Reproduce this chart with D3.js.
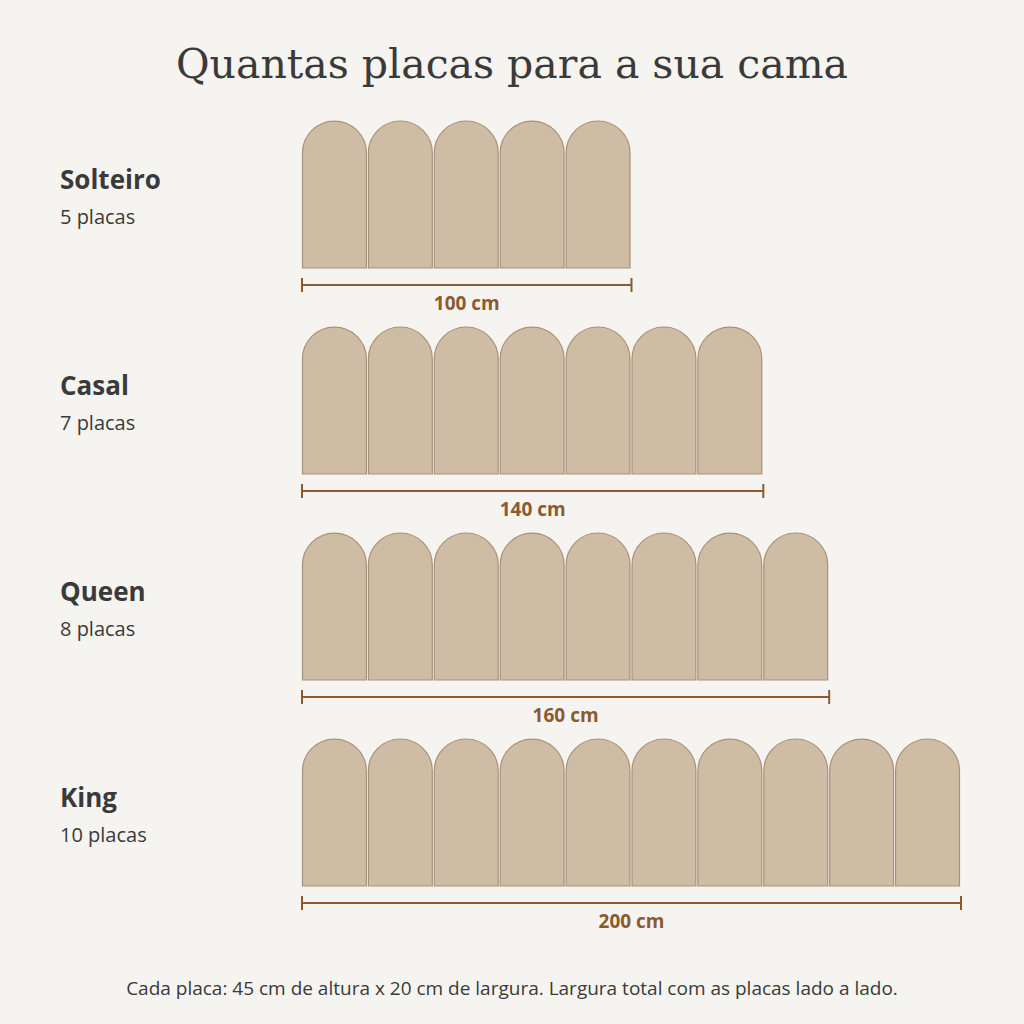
<!DOCTYPE html>
<html><head><meta charset="utf-8">
<script src="https://cdn.jsdelivr.net/npm/d3@7"></script>
<style>body{margin:0;background:#f6f4f0}</style>
</head><body>
<script>
// data
var beds = ['Solteiro', 'Casal', 'Queen', 'King'];
var plates = [5, 7, 8, 10];
var widths = [100, 140, 160, 200]; // cm
var plateWidth = 20, plateHeight = 45;

var W = 1024, H = 1024;
var svg = d3.select('body').append('svg').attr('width', W).attr('height', H);
svg.append('rect').attr('width', W).attr('height', H).attr('fill', '#f6f4f0');

svg.append('text').attr('x', 512).attr('y', 78).attr('text-anchor', 'middle')
  .attr('font-family', 'Georgia, "DejaVu Serif", serif').attr('font-size', 41)
  .attr('fill', '#3a3a3a').text('Quantas placas para a sua cama');

var x = d3.scaleLinear().domain([0, 200]).range([302, 961]);
var rowY = d3.scalePoint().domain(beds).range([121, 739]);
var hy = d3.scaleLinear().domain([0, plateHeight]).range([0, 147]);
var sans = '"Open Sans", "Noto Sans", sans-serif';

beds.forEach(function (bed, i) {
  var top = rowY(bed);
  var g = svg.append('g');
  g.append('text').attr('x', 60).attr('y', top + 68).attr('font-family', sans)
    .attr('font-weight', 'bold').attr('font-size', 26).attr('fill', '#3a3a3a').text(bed);
  g.append('text').attr('x', 60).attr('y', top + 103).attr('font-family', sans)
    .attr('font-size', 20).attr('fill', '#3a3a3a').text(plates[i] + ' placas');

  d3.range(plates[i]).forEach(function (k) {
    var x0 = x(k * plateWidth) + 0.5, x1 = x((k + 1) * plateWidth) - 1.5;
    var r = (x1 - x0) / 2, bottom = top + hy(plateHeight);
    g.append('path')
      .attr('d', 'M' + x0 + ',' + bottom + 'L' + x0 + ',' + (top + r) +
        'A' + r + ',' + r + ' 0 0 1 ' + x1 + ',' + (top + r) + 'L' + x1 + ',' + bottom + 'Z')
      .attr('fill', '#cfbca4').attr('stroke', '#a89276').attr('stroke-width', 1.2);
  });

  var ly = top + 164, xe = x(widths[i]);
  g.append('line').attr('x1', x(0)).attr('x2', xe).attr('y1', ly).attr('y2', ly)
    .attr('stroke', '#8b5a30').attr('stroke-width', 2);
  [x(0), xe].forEach(function (xx) {
    g.append('line').attr('x1', xx).attr('x2', xx).attr('y1', ly - 7).attr('y2', ly + 7)
      .attr('stroke', '#8b5a30').attr('stroke-width', 2);
  });
  g.append('text').attr('x', (x(0) + xe) / 2).attr('y', ly + 25).attr('text-anchor', 'middle')
    .attr('font-family', sans).attr('font-weight', 'bold').attr('font-size', 19)
    .attr('fill', '#8b5a30').text(widths[i] + ' cm');
});

svg.append('text').attr('x', 512).attr('y', 995).attr('text-anchor', 'middle')
  .attr('font-family', sans).attr('font-size', 19).attr('fill', '#3a3a3a')
  .text('Cada placa: 45 cm de altura x 20 cm de largura. Largura total com as placas lado a lado.');
</script>
</body></html>
